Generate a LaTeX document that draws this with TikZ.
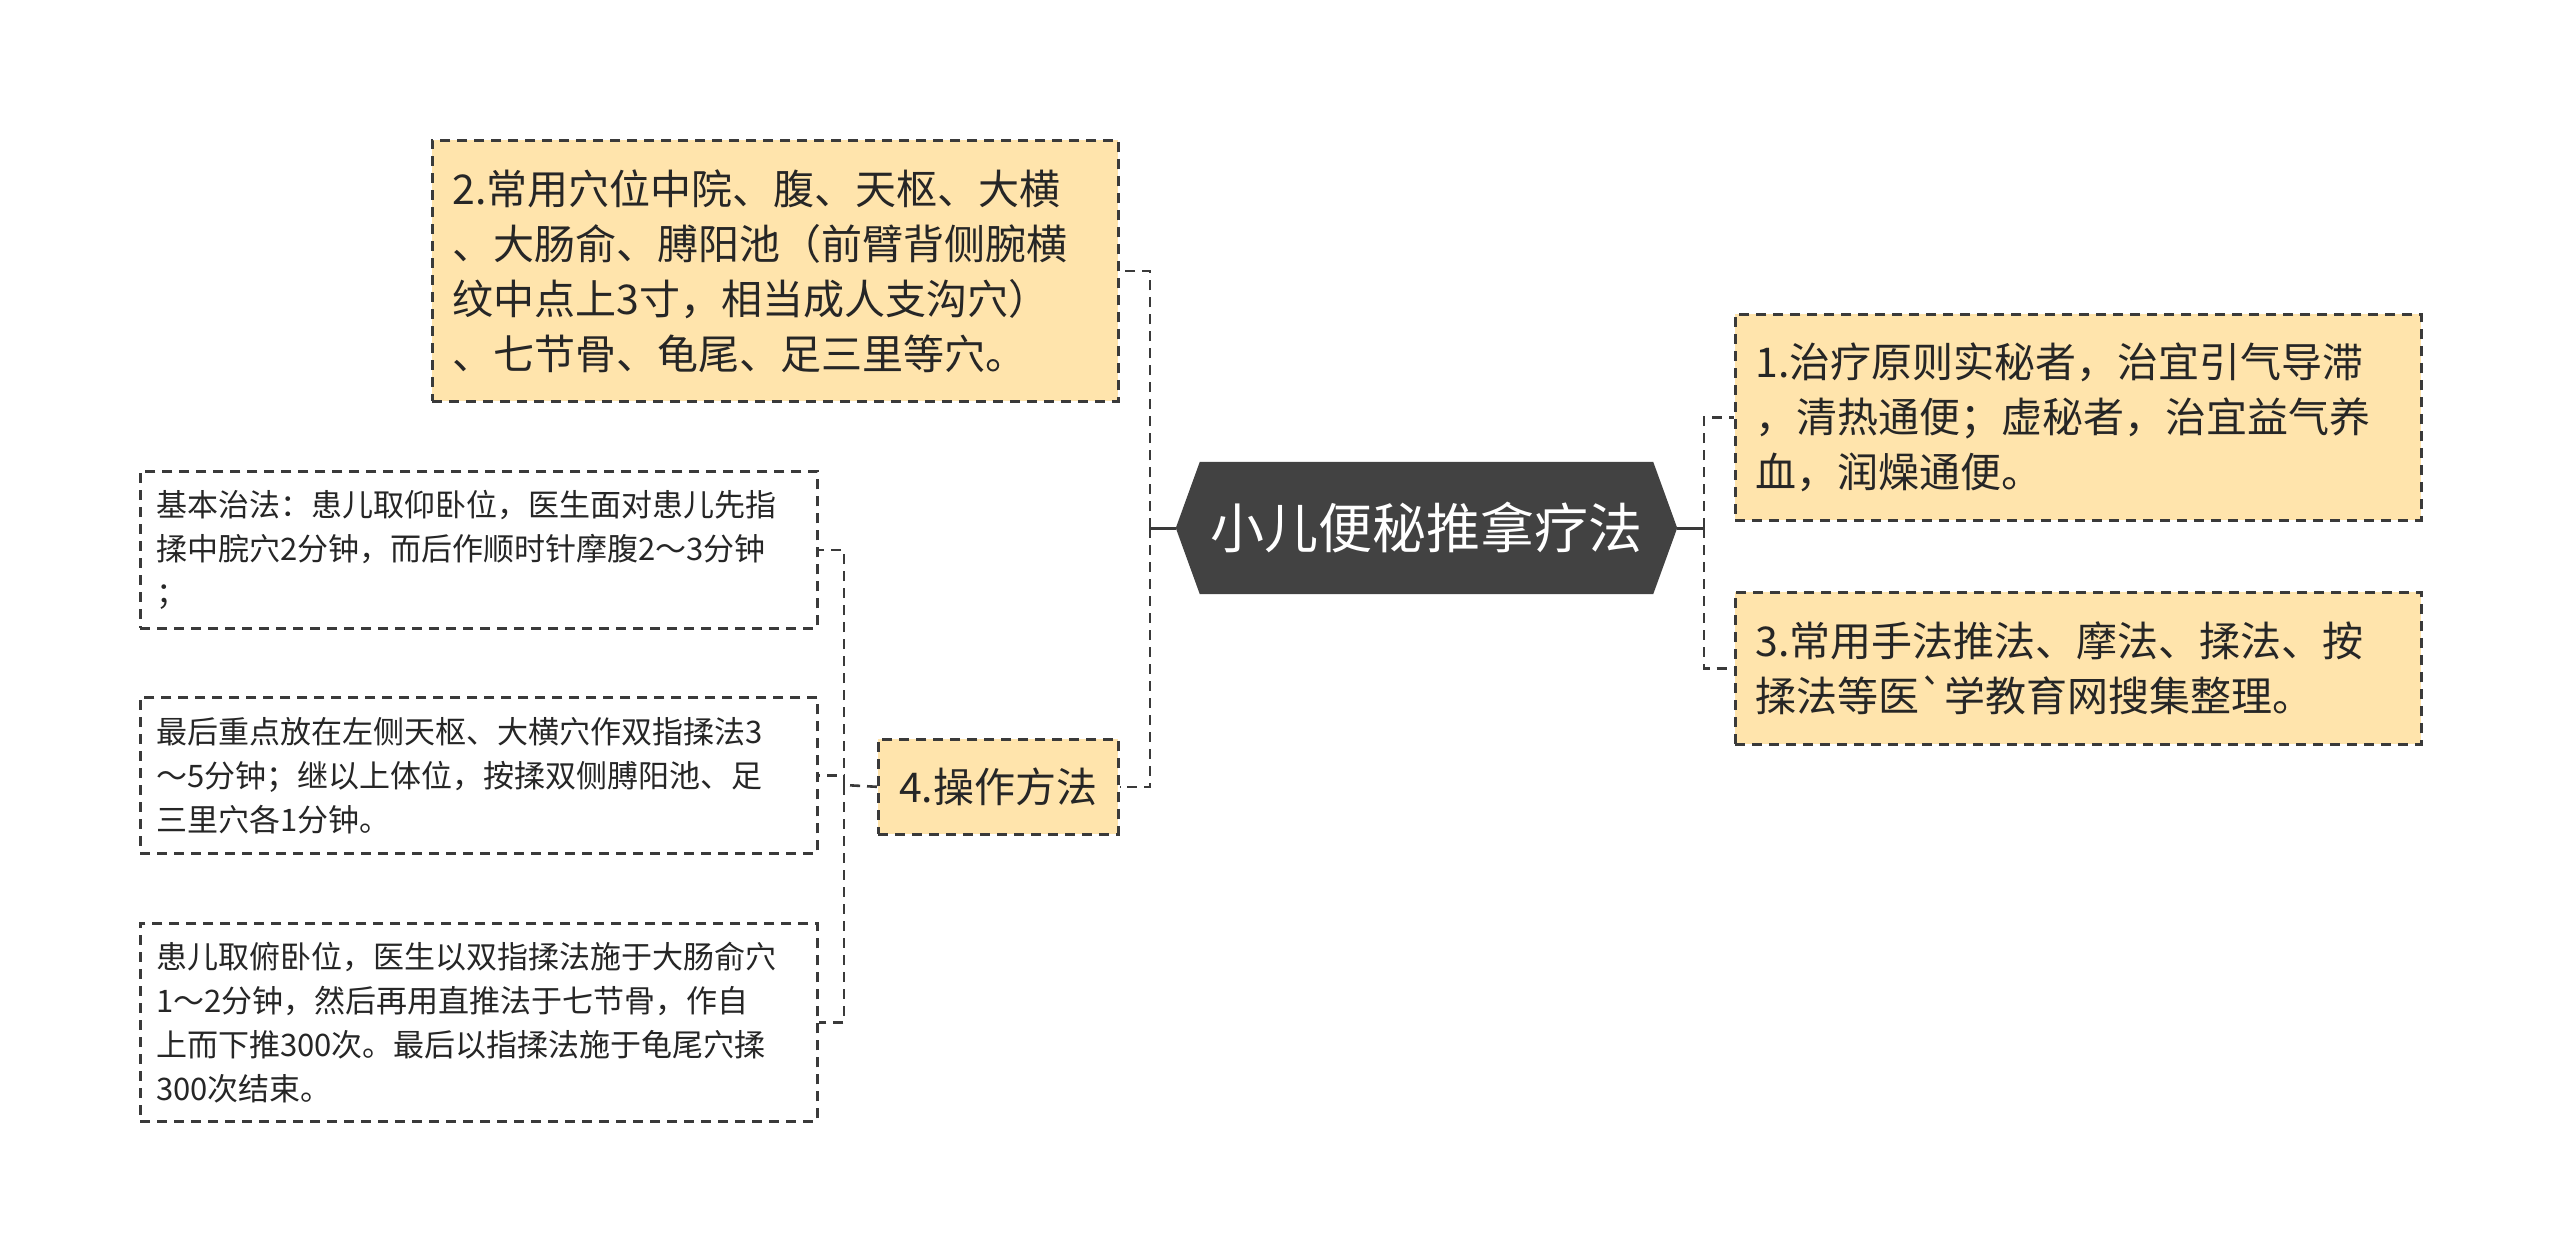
\documentclass[tikz,border=0pt]{standalone}
\usepackage{fontspec}
\setmainfont{Noto Sans CJK SC}
\newfontfamily\nomapfont{Noto Sans CJK SC}
\usetikzlibrary{backgrounds}
\definecolor{boxfill}{HTML}{FFE4AC}
\definecolor{linec}{HTML}{3A3A3A}
\definecolor{rootc}{HTML}{424242}
\tikzset{
  dashline/.style={draw=linec, line width=2.6pt, dash pattern=on 10pt off 7pt},
  yelbox/.style={dashline, fill=boxfill, anchor=north west, inner xsep=20pt, inner ysep=0pt,
    align=left, text=black!85, font=\fontsize{41}{55}\selectfont},
  whitebox/.style={dashline, fill=white, anchor=north west, inner xsep=16pt, inner ysep=0pt,
    align=left, text=black!85, font=\fontsize{31}{44}\selectfont, text width=645pt, minimum width=677pt},
  rootbox/.style={inner sep=0pt, minimum width=501pt, minimum height=132pt, text=white,
    font=\fontsize{54}{60}\selectfont},
  conn/.style={dashline},
  solidconn/.style={draw=linec, line width=3pt}
}
\begin{document}
\begin{tikzpicture}[x=1pt,y=-1pt]
\useasboundingbox (0,0) rectangle (2560,1258);

% central node
\node[rootbox] (root) at (1426.5,528) {小儿便秘推拿疗法};
\begin{pgfonlayer}{background}
\fill[white] (0,0) rectangle (2560,1258);
\fill[rootc] (root.west) -- ([xshift=24pt]root.north west) -- ([xshift=-24pt]root.north east)
  -- (root.east) -- ([xshift=-24pt]root.south east) -- ([xshift=24pt]root.south west) -- cycle;
\end{pgfonlayer}

% right branch
\node[yelbox, text width=646pt, minimum width=686pt, minimum height=206pt] (n1) at (1734,313)
  {1.治疗原则实秘者，治宜引气导滞\\，清热通便；虚秘者，治宜益气养\\血，润燥通便。};
\node[yelbox, text width=646pt, minimum width=686pt, minimum height=152pt] (n3) at (1734,591)
  {3.常用手法推法、摩法、揉法、按\\揉法等医{\nomapfont`}学教育网搜集整理。};

% left branch
\node[yelbox, text width=646pt, minimum width=686pt, minimum height=261pt] (n2) at (431,139)
  {2.常用穴位中院、腹、天枢、大横\\、大肠俞、膊阳池（前臂背侧腕横\\纹中点上3寸，相当成人支沟穴）\\、七节骨、龟尾、足三里等穴。};
\node[yelbox, inner xsep=0pt, align=center, minimum width=240pt, minimum height=95pt] (n4) at (877,738)
  {4.操作方法};

% children of 4
\node[whitebox, minimum height=157pt] (a) at (139,470)
  {基本治法：患儿取仰卧位，医生面对患儿先指\\揉中脘穴2分钟，而后作顺时针摩腹2～3分钟\\；};
\node[whitebox, minimum height=156pt] (b) at (139,696)
  {最后重点放在左侧天枢、大横穴作双指揉法3\\～5分钟；继以上体位，按揉双侧膊阳池、足\\三里穴各1分钟。};
\node[whitebox, minimum height=198pt] (c) at (139,922)
  {患儿取俯卧位，医生以双指揉法施于大肠俞穴\\1～2分钟，然后再用直推法于七节骨，作自\\上而下推300次。最后以指揉法施于龟尾穴揉\\300次结束。};

% junctions
\coordinate (jl) at (1150,528);
\coordinate (jr) at (1704,528);
\coordinate (j4) at (844,785);

% connectors
\draw[solidconn] (root.west) -- (jl);
\draw[solidconn] (root.east) -- (jr);
\draw[conn] (jl) |- (n2.east);
\draw[conn] (jl) |- (n4.east);
\draw[conn] (jr) |- (n1.west);
\draw[conn] (jr) |- (n3.west);
\draw[conn] (n4.west) -- (j4);
\draw[conn] (j4) |- (a.east);
\draw[conn] (j4) |- (b.east);
\draw[conn] (j4) |- (c.east);
\end{tikzpicture}
\end{document}
